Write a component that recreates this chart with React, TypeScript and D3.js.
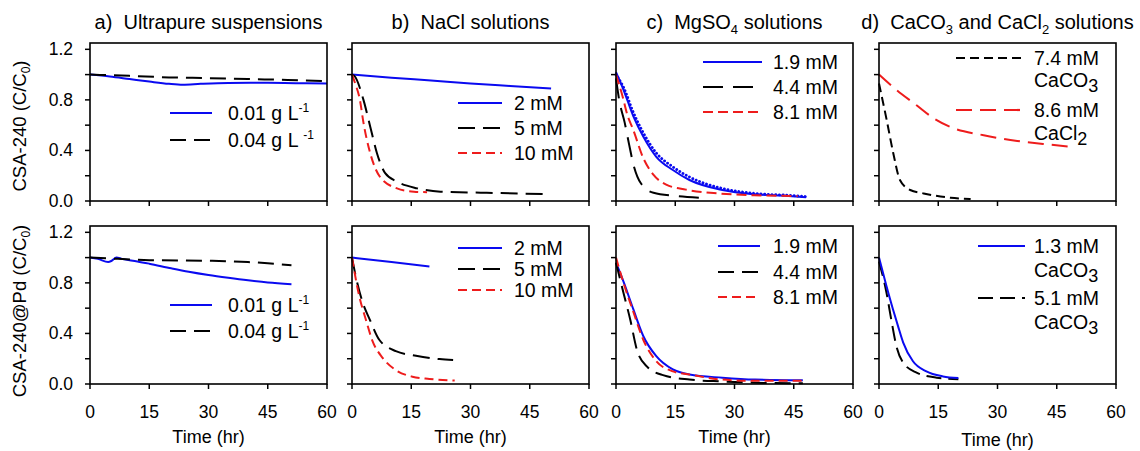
import React from 'react';
import * as d3 from 'd3';

type Pt = [number, number];

// ---------- data ----------
const timeTicks = [0, 15, 30, 45, 60];
const yMajorTicks = [0, 0.4, 0.8, 1.2];
const yMinorTicks = [0.2, 0.6, 1.0];

// a) Ultrapure suspensions
const aTop001: Pt[] = [[0, 1.0], [5, 0.985], [10, 0.965], [15, 0.945], [20, 0.927], [23.5, 0.92], [28, 0.927], [35, 0.934], [45, 0.935], [52, 0.932], [60, 0.93]];
const aTop004: Pt[] = [[0, 1.0], [10, 0.99], [20, 0.978], [30, 0.972], [40, 0.965], [50, 0.958], [59, 0.95]];
const aBot001: Pt[] = [[0, 1.0], [2, 0.99], [4.6, 0.965], [5.5, 0.975], [6.7, 1.0], [8, 0.99], [12, 0.97], [15, 0.952], [20.6, 0.915], [25, 0.888], [30, 0.862], [35, 0.84], [40, 0.82], [45, 0.803], [51, 0.79]];
const aBot004: Pt[] = [[0, 1.0], [7, 0.99], [15, 0.98], [30, 0.975], [40, 0.965], [45, 0.955], [51, 0.94]];

// b) NaCl solutions
const bTop2: Pt[] = [[0, 1.0], [10, 0.975], [20, 0.953], [30, 0.93], [40, 0.91], [50.4, 0.89]];
const bTop5: Pt[] = [[0, 1.0], [0.6, 0.99], [2.9, 0.8], [4.6, 0.59], [6.3, 0.38], [8.4, 0.22], [11.4, 0.153], [16.5, 0.1], [22.4, 0.074], [32.6, 0.066], [48.7, 0.055]];
const bTop10: Pt[] = [[0, 1.0], [0.8, 0.93], [2.0, 0.8], [2.9, 0.62], [4.6, 0.38], [7.1, 0.19], [11.4, 0.1], [15.7, 0.074], [19, 0.07]];
const bBot2: Pt[] = [[0, 1.0], [10, 0.965], [19.6, 0.93]];
const bBot5: Pt[] = [[0, 1.0], [0.9, 0.86], [2.7, 0.645], [4.5, 0.51], [6.9, 0.35], [11.1, 0.26], [16.2, 0.224], [22.2, 0.197], [25.6, 0.19]];
const bBot10: Pt[] = [[0, 1.0], [1.8, 0.7], [3.5, 0.51], [5.2, 0.34], [7.8, 0.205], [11.1, 0.11], [15.3, 0.058], [19.6, 0.04], [26, 0.027]];

// c) MgSO4 solutions
const cTop19: Pt[] = [[0, 1.02], [1.9, 0.88], [4.4, 0.67], [6.9, 0.51], [10.2, 0.35], [14.4, 0.245], [18.6, 0.166], [26.9, 0.087], [35.2, 0.053], [43.6, 0.04], [48.1, 0.03]];
const cTop19fit: Pt[] = [[0, 1.0], [1.9, 0.9], [4.4, 0.7], [6.9, 0.54], [10.2, 0.38], [14.4, 0.27], [18.6, 0.19], [26.9, 0.1], [35.2, 0.06], [43.6, 0.045], [48.1, 0.035]];
const cTop44: Pt[] = [[0, 0.97], [0.8, 0.8], [2.2, 0.62], [3.3, 0.45], [4.4, 0.29], [6.3, 0.14], [9.5, 0.065], [15, 0.04], [21, 0.025]];
const cTop81: Pt[] = [[0, 1.0], [1.9, 0.8], [2.7, 0.7], [4.4, 0.56], [6.9, 0.34], [9.4, 0.21], [12.7, 0.13], [17.7, 0.09], [26, 0.06], [35, 0.045], [46, 0.04]];
const cBot19: Pt[] = [[0, 0.96], [1.9, 0.81], [4.4, 0.59], [6.9, 0.38], [10.2, 0.22], [14.4, 0.115], [18.6, 0.075], [26.9, 0.05], [35.2, 0.035], [47.3, 0.03]];
const cBot44: Pt[] = [[0, 0.96], [1.9, 0.72], [3.6, 0.51], [5.3, 0.27], [7.8, 0.14], [11.9, 0.07], [18.6, 0.035], [26.9, 0.02], [35.2, 0.01], [47.3, 0.005]];
const cBot81: Pt[] = [[0, 1.0], [1.9, 0.8], [4.4, 0.57], [6.9, 0.35], [10.2, 0.18], [14.4, 0.1], [18.6, 0.075], [26.9, 0.035], [35.2, 0.025], [47.3, 0.025]];

// d) CaCO3 and CaCl2 solutions
const dTop74: Pt[] = [[0, 0.93], [1.95, 0.64], [3.6, 0.38], [5.3, 0.166], [7.9, 0.087], [11.3, 0.06], [18.1, 0.026], [23.2, 0.016]];
const dTop86: Pt[] = [[0, 1.0], [3.6, 0.9], [9.6, 0.755], [13.8, 0.655], [18.1, 0.585], [26.5, 0.52], [35, 0.475], [43.5, 0.445], [48.2, 0.43]];
const dBot13: Pt[] = [[0, 1.0], [1.85, 0.78], [3.55, 0.59], [4.8, 0.46], [6.1, 0.33], [8.6, 0.18], [12, 0.1], [16.2, 0.06], [20.1, 0.047]];
const dBot51: Pt[] = [[0, 0.97], [1.85, 0.73], [3.1, 0.51], [4.4, 0.3], [6.1, 0.17], [9.5, 0.09], [14.6, 0.05], [20.1, 0.037]];

// ---------- styling / layout ----------
const FONT = "'Liberation Sans', Arial, sans-serif";
const BLUE = '#0a0af0';
const RED = '#ee1c1c';
const BLACK = '#000000';
const colLeft = [90, 352, 616, 879];
const rowTop = [43, 226];
const PW = 237;
const PH = 158;

interface Series { data: Pt[]; color: string; dash?: string; dotted?: boolean; }
interface LegItem { color: string; dash?: string; y: number; label: React.ReactNode; y2?: number; label2?: React.ReactNode; }
interface Panel { col: number; row: number; series: Series[]; legend: { x1: number; x2: number; tx: number; items: LegItem[] }; }

const sup = (s: string) => <tspan fontSize={12} dy={-8}>{s}</tspan>;
const caco3 = <>CaCO<tspan fontSize={18} dy={5}>3</tspan></>;
const cacl2 = <>CaCl<tspan fontSize={18} dy={5}>2</tspan></>;

const DASH_A = '16,8';
const panels: Panel[] = [
  { col: 0, row: 0, series: [{ data: aTop001, color: BLUE }, { data: aTop004, color: BLACK, dash: DASH_A }],
    legend: { x1: 170, x2: 212, tx: 228, items: [
      { color: BLUE, y: 113, label: <>0.01 g L{sup('-1')}</> },
      { color: BLACK, dash: DASH_A, y: 140, label: <>0.04 g L {sup('-1')}</> }] } },
  { col: 0, row: 1, series: [{ data: aBot001, color: BLUE }, { data: aBot004, color: BLACK, dash: DASH_A }],
    legend: { x1: 170, x2: 212, tx: 228, items: [
      { color: BLUE, y: 305, label: <>0.01 g L{sup('-1')}</> },
      { color: BLACK, dash: DASH_A, y: 331, label: <>0.04 g L{sup('-1')}</> }] } },
  { col: 1, row: 0, series: [{ data: bTop2, color: BLUE }, { data: bTop5, color: BLACK, dash: '17,8' }, { data: bTop10, color: RED, dash: '9,5' }],
    legend: { x1: 458, x2: 502, tx: 514, items: [
      { color: BLUE, y: 103, label: '2 mM' },
      { color: BLACK, dash: '17,8', y: 128, label: '5 mM' },
      { color: RED, dash: '9,5', y: 153, label: '10 mM' }] } },
  { col: 1, row: 1, series: [{ data: bBot2, color: BLUE }, { data: bBot5, color: BLACK, dash: '17,8' }, { data: bBot10, color: RED, dash: '9,5' }],
    legend: { x1: 458, x2: 502, tx: 514, items: [
      { color: BLUE, y: 248, label: '2 mM' },
      { color: BLACK, dash: '17,8', y: 269, label: '5 mM' },
      { color: RED, dash: '9,5', y: 290, label: '10 mM' }] } },
  { col: 2, row: 0, series: [{ data: cTop19fit, color: BLUE, dotted: true }, { data: cTop19, color: BLUE }, { data: cTop44, color: BLACK, dash: '20,10' }, { data: cTop81, color: RED, dash: '10,5' }],
    legend: { x1: 703, x2: 762, tx: 773, items: [
      { color: BLUE, y: 62, label: '1.9 mM' },
      { color: BLACK, dash: '20,10', y: 87, label: '4.4 mM' },
      { color: RED, dash: '10,5', y: 112, label: '8.1 mM' }] } },
  { col: 2, row: 1, series: [{ data: cBot19, color: BLUE }, { data: cBot44, color: BLACK, dash: '16,8' }, { data: cBot81, color: RED, dash: '9,5' }],
    legend: { x1: 718, x2: 760, tx: 773, items: [
      { color: BLUE, y: 246, label: '1.9 mM' },
      { color: BLACK, dash: '16,8', y: 272, label: '4.4 mM' },
      { color: RED, dash: '9,5', y: 297, label: '8.1 mM' }] } },
  { col: 3, row: 0, series: [{ data: dTop86, color: RED, dash: '16,8' }, { data: dTop74, color: BLACK, dash: '9,5' }],
    legend: { x1: 956, x2: 1022, tx: 1034, items: [
      { color: BLACK, dash: '9,5', y: 58, label: '7.4 mM', y2: 80, label2: caco3 },
      { color: RED, dash: '16,8', y: 110, label: '8.6 mM', y2: 133, label2: cacl2 }] } },
  { col: 3, row: 1, series: [{ data: dBot51, color: BLACK, dash: '15,7' }, { data: dBot13, color: BLUE }],
    legend: { x1: 978, x2: 1025, tx: 1034, items: [
      { color: BLUE, y: 246, label: '1.3 mM', y2: 270, label2: caco3 },
      { color: BLACK, dash: '15,7', y: 298, label: '5.1 mM', y2: 322, label2: caco3 }] } },
];

const titles: React.ReactNode[] = [
  <>a)  Ultrapure suspensions</>,
  <>b)  NaCl solutions</>,
  <>c)  MgSO<tspan fontSize={13} dy={5}>4</tspan><tspan dy={-5}> solutions</tspan></>,
  <>d)  CaCO<tspan fontSize={13} dy={5}>3</tspan><tspan dy={-5}> and CaCl</tspan><tspan fontSize={13} dy={5}>2</tspan><tspan dy={-5}> solutions</tspan></>,
];

const yTitles: React.ReactNode[] = [
  <>CSA-240 (C/C<tspan fontSize={12} dy={4}>0</tspan><tspan dy={-4}>)</tspan></>,
  <>CSA-240@Pd (C/C<tspan fontSize={12} dy={4}>0</tspan><tspan dy={-4}>)</tspan></>,
];
const yTitleCenter = [126, 311];

function PanelView({ p }: { p: Panel }) {
  const left = colLeft[p.col];
  const top = rowTop[p.row];
  const x = d3.scaleLinear().domain([0, 60]).range([left, left + PW]);
  const y = d3.scaleLinear().domain([0, 1.25]).range([top + PH, top]);
  const line = d3.line<Pt>().x(d => x(d[0])).y(d => y(d[1])).curve(d3.curveMonotoneX);
  const yTicks = [...yMajorTicks, ...yMinorTicks];
  return (
    <g>
      {p.series.map((s, i) => (
        <path key={i} d={line(s.data) || ''} fill="none" stroke={s.color}
          strokeWidth={s.dotted ? 2.8 : 2}
          strokeDasharray={s.dotted ? '0.1,3.6' : s.dash}
          strokeLinecap={s.dotted ? 'round' : 'butt'} />
      ))}
      <rect x={left} y={top} width={PW} height={PH} fill="none" stroke="#000" strokeWidth={1.6} />
      {yTicks.map(t => (
        <line key={'y' + t} x1={left - 5} x2={left} y1={y(t)} y2={y(t)} stroke="#000" strokeWidth={1.5} />
      ))}
      {timeTicks.map(t => (
        <line key={'x' + t} x1={x(t)} x2={x(t)} y1={top + PH} y2={top + PH + 5} stroke="#000" strokeWidth={1.5} />
      ))}
      {p.col === 0 && yMajorTicks.map(t => (
        <text key={'yl' + t} x={73} y={y(t) + 6} textAnchor="end" fontSize={17.5}>{t.toFixed(1)}</text>
      ))}
      {p.row === 1 && timeTicks.map(t => (
        <text key={'xl' + t} x={x(t)} y={418} textAnchor="middle" fontSize={17.5}>{t}</text>
      ))}
      {p.row === 1 && (
        <text x={left + PW / 2} y={p.col === 3 ? 446 : 443} textAnchor="middle" fontSize={18}>Time (hr)</text>
      )}
      {p.row === 0 && (
        <text x={left + PW / 2} y={29} textAnchor="middle" fontSize={20} style={{ whiteSpace: 'pre' }}>{titles[p.col]}</text>
      )}
      {p.legend.items.map((it, i) => (
        <g key={'lg' + i}>
          <line x1={p.legend.x1} x2={p.legend.x2} y1={it.y} y2={it.y} stroke={it.color} strokeWidth={2.2} strokeDasharray={it.dash} />
          <text x={p.legend.tx} y={it.y + 7} fontSize={19.5}>{it.label}</text>
          {it.label2 && <text x={p.legend.tx} y={(it.y2 || 0) + 7} fontSize={19.5}>{it.label2}</text>}
        </g>
      ))}
    </g>
  );
}

export default function App() {
  return (
    <svg width={1140} height={451} viewBox="0 0 1140 451"
      style={{ position: 'absolute', left: 0, top: 0, background: '#fff' }}
      fontFamily={FONT} fill="#000">
      <rect x={0} y={0} width={1140} height={451} fill="#fff" />
      {panels.map((p, i) => <PanelView key={i} p={p} />)}
      {yTitles.map((t, r) => (
        <text key={r} transform={`translate(26,${yTitleCenter[r]}) rotate(-90)`} textAnchor="middle" fontSize={18.5}>{t}</text>
      ))}
    </svg>
  );
}
